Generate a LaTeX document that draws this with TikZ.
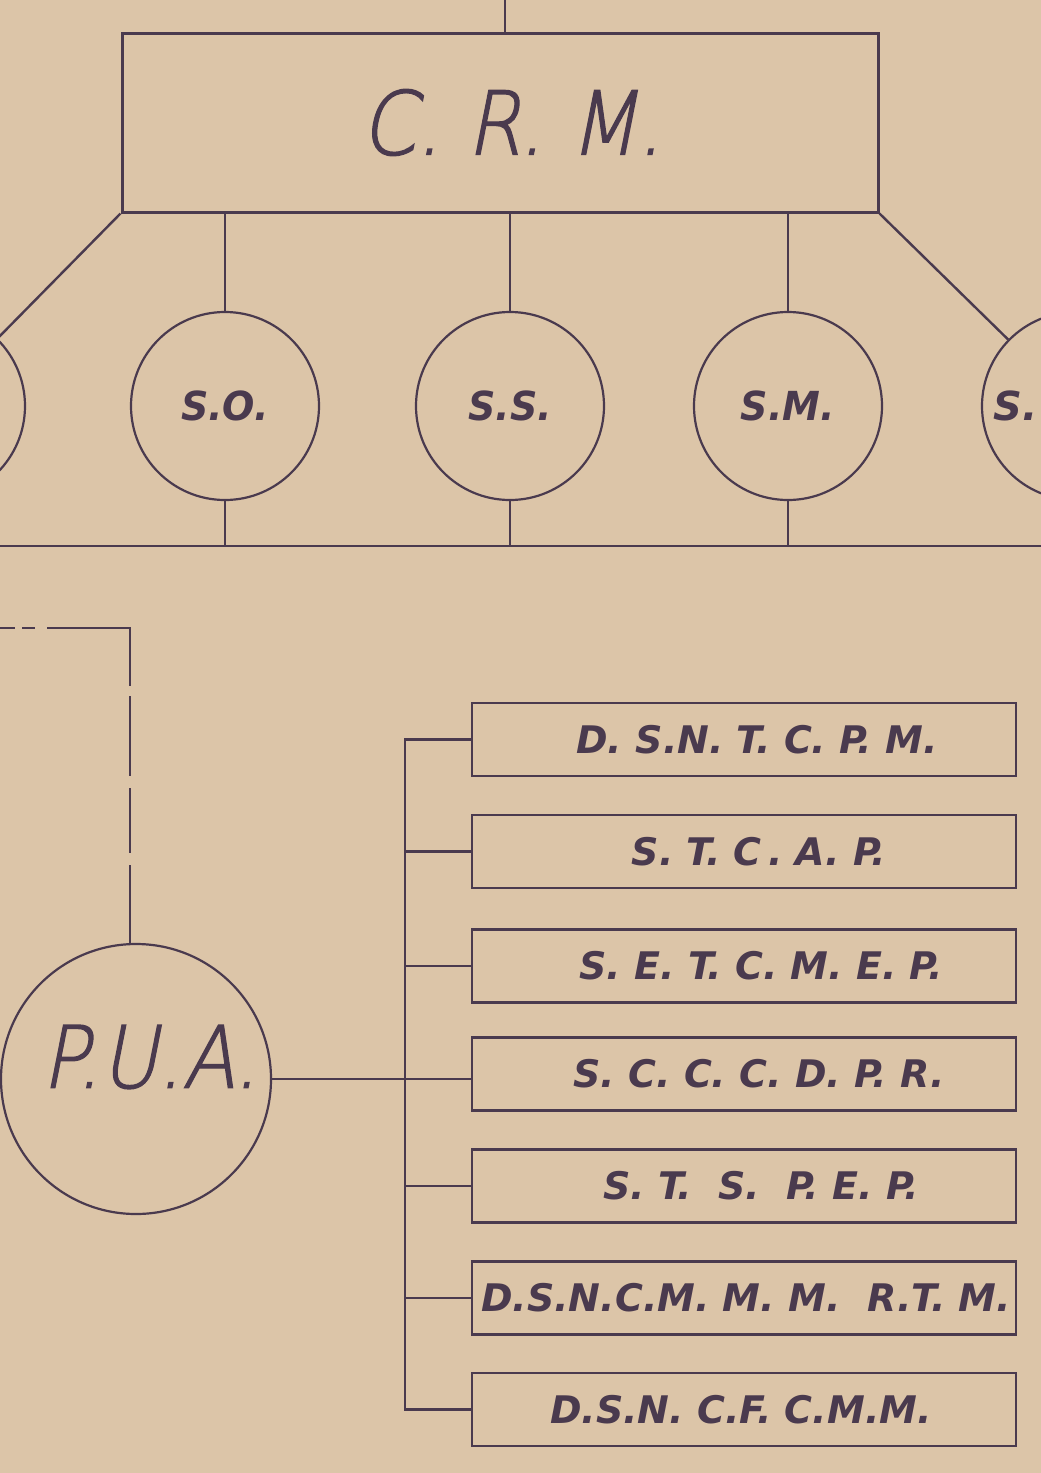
\documentclass[tikz,border=0pt]{standalone}
\usepackage{fontspec}
\usepackage{graphicx}
\setmainfont{DejaVu Sans}
\newfontfamily\thinfont[FakeSlant=0.22,FakeBold=1.6]{DejaVu Sans ExtraLight}
\usetikzlibrary{calc}
\definecolor{paper}{HTML}{DCC5A8}
\definecolor{ink}{HTML}{4A3A4E}
\begin{document}
\begin{tikzpicture}[x=1pt,y=-1pt,
  every node/.style={text=ink},
  crmbox/.style={draw=ink, line width=3pt, minimum width=756pt, minimum height=179pt, inner sep=0pt,
    font=\thinfont\fontsize{88}{88}\selectfont},
  subcirc/.style={draw=ink, line width=2.2pt, circle, minimum size=188pt, inner sep=0pt,
    font=\fontsize{40}{40}\selectfont\bfseries\itshape},
  puacirc/.style={draw=ink, line width=2.2pt, circle, minimum size=270pt, inner sep=0pt},
  bigtext/.style={font=\thinfont\fontsize{86}{86}\selectfont, inner sep=0pt},
  unitbox/.style={draw=ink, line width=2.8pt, minimum width=544pt, minimum height=73pt, inner sep=0pt,
    font=\fontsize{38}{38}\selectfont\bfseries\itshape},
  link/.style={draw=ink, line width=2.4pt},
  dashlink/.style={draw=ink, line width=2.6pt,
    dash pattern=on 15pt off 7pt on 13pt off 12pt on 141pt off 10pt on 80pt off 12pt on 65pt off 12pt on 80pt}
]
\fill[paper] (0,0) rectangle (1041,1473);
\useasboundingbox (0,0) rectangle (1041,1473);
\clip (0,0) rectangle (1041,1473);

% top level
\coordinate (top) at (505,0);
\node[crmbox] (crm) at (500,122.5) {\scalebox{0.9}[1]{\hspace*{26pt}C.\ R.\ M.}};

% sections
\node[subcirc] (sl) at (-69,406) {};
\node[subcirc] (so) at (225,406) {\scalebox{0.95}[1]{S.O.}};
\node[subcirc] (ss) at (510,406) {\scalebox{0.95}[1]{S.S.}};
\node[subcirc] (sm) at (788,406) {\scalebox{0.95}[1]{S.M.}};
\node[subcirc] (sr) at (1076,406) {};
\node[font=\fontsize{40}{40}\selectfont\bfseries\itshape, anchor=west, inner sep=0pt] (srtext) at (993,406) {S.};

\coordinate (bL) at (0,546);
\coordinate (bR) at (1041,546);

\draw[link] (top) -- (top |- crm.north);
\draw[link] (crm.south west) -- (sl);
\draw[link] (crm.south east) -- (sr);
\draw[link] (so.north) -- (so.north |- crm.south);
\draw[link] (ss.north) -- (ss.north |- crm.south);
\draw[link] (sm.north) -- (sm.north |- crm.south);
\draw[link] (so.south) -- (so.south |- bL);
\draw[link] (ss.south) -- (ss.south |- bL);
\draw[link] (sm.south) -- (sm.south |- bL);
\draw[draw=ink, line width=2.8pt] (bL) -- (bR);

% P.U.A.
\node[puacirc] (pua) at (136,1079) {};
\node[bigtext] (puatext) at ($(pua.center)+(14,-22)$) {\scalebox{0.9}[1]{P.U.A.}};
\coordinate (dstart) at (0,628);
\coordinate (dturn) at (130,628);
\draw[dashlink] (dstart) -- (dturn) -- (dturn |- pua.north);

% units
\node[unitbox] (b1) at (744,739.5) {\hspace*{26pt}D.\ S.N.\ T.\ C.\ P.\ M.};
\node[unitbox] (b2) at (744,851.5) {\hspace*{30pt}S.\ T.\ C\,.\ A.\ P.};
\node[unitbox] (b3) at (744,966) {\hspace*{34pt}S.\ E.\ T.\ C.\ M.\ E.\ P.};
\node[unitbox] (b4) at (744,1074) {\hspace*{30pt}S.\ C.\ C.\ C.\ D.\ P.\ R.};
\node[unitbox] (b5) at (744,1186) {\hspace*{34pt}S.\ T.\ \ S.\ \ P.\ E.\ P.};
\node[unitbox] (b6) at (744,1298) {\hspace*{4pt}D.S.N.C.M.\ M.\ M.\ \ R.T.\ M.};
\node[unitbox] (b7) at (744,1409.5) {\hspace*{-6pt}D.S.N.\ C.F.\ C.M.M.};

\coordinate (bx) at (405,0);
\draw[link] (b1.west) -- (b1.west -| bx) -- (b7.west -| bx) -- (b7.west);
\draw[link] (b2.west) -- (b2.west -| bx);
\draw[link] (b3.west) -- (b3.west -| bx);
\draw[link] (b5.west) -- (b5.west -| bx);
\draw[link] (b6.west) -- (b6.west -| bx);
\draw[link] (pua.east) -- (pua.east -| b4.west);
\end{tikzpicture}
\end{document}
